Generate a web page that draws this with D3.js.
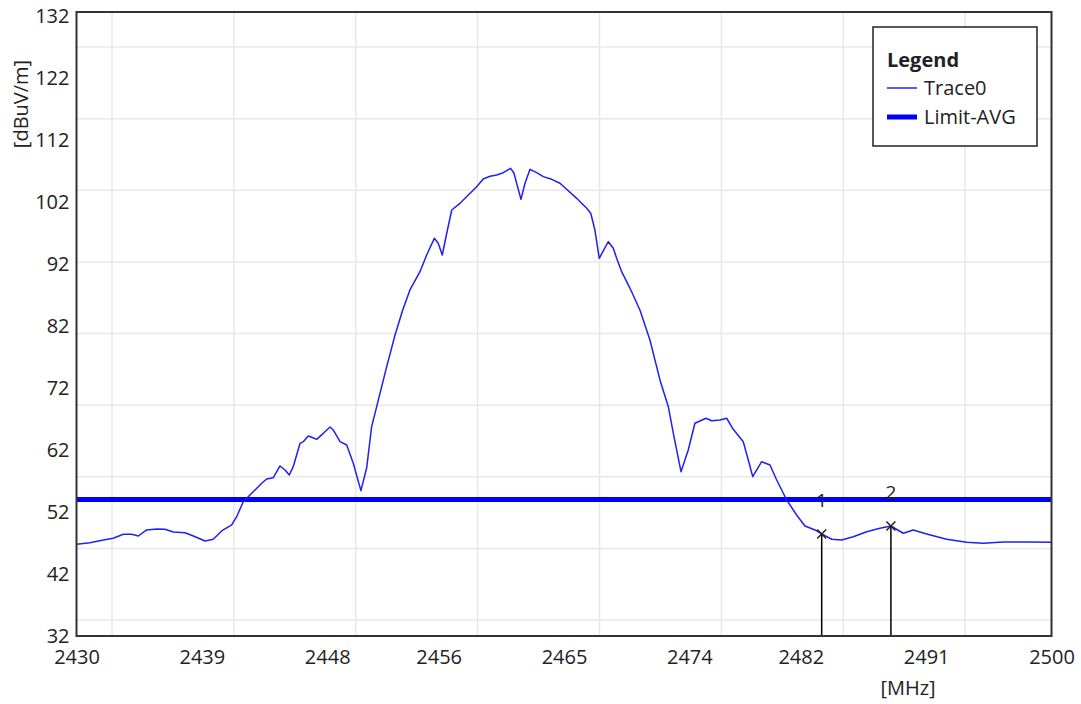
<!DOCTYPE html>
<html>
<head>
<meta charset="utf-8">
<script src="https://cdn.jsdelivr.net/npm/d3@7"></script>
<style>
  body { margin: 0; background: #fff; }
  text { font-family: "Open Sans", "Noto Sans", sans-serif; fill: #222; }
</style>
</head>
<body>
<div id="chart"></div>
<script>
// trace, MHz / dBuV/m
var freqs = [2430, 2430.97, 2431.92, 2432.64, 2433.36, 2433.96, 2434.44, 2435.04, 2435.76, 2436.35,
  2436.95, 2437.79, 2438.39, 2439.23, 2439.82, 2440.42, 2441.14, 2441.5, 2441.97, 2442.58,
  2443.3, 2443.65, 2444.13, 2444.61, 2444.97, 2445.28, 2445.56, 2446.05, 2446.28, 2446.64,
  2446.89, 2447.24, 2447.72, 2448.2, 2448.44, 2448.92, 2449.4, 2449.87, 2450.42, 2450.83,
  2451.19, 2451.79, 2452.27, 2452.87, 2453.42, 2453.94, 2454.66, 2455.14, 2455.69, 2455.97,
  2456.26, 2456.58, 2456.94, 2457.53, 2458.13, 2458.73, 2459.2, 2459.69, 2460.17, 2460.64,
  2461.17, 2461.41, 2461.91, 2462.2, 2462.56, 2463.04, 2463.51, 2464.12, 2464.71, 2465.19,
  2465.91, 2466.63, 2466.92, 2467.22, 2467.53, 2468.18, 2468.54, 2468.78, 2469.14, 2469.74,
  2470.45, 2471.17, 2471.89, 2472.49, 2472.85, 2473.4, 2473.92, 2474.4, 2475.19, 2475.6,
  2476.2, 2476.68, 2477.15, 2477.87, 2478.23, 2478.55, 2479.19, 2479.79, 2480.27, 2480.99,
  2481.7, 2482.3, 2483.02, 2483.5, 2484.22, 2484.93, 2485.77, 2486.73, 2487.68, 2488.47,
  2489.36, 2490.07, 2491.04, 2492.47, 2493.91, 2495.1, 2496.54, 2498.22, 2500];
var levels = [46.79, 47.05, 47.48, 47.76, 48.41, 48.41, 48.13, 49.1, 49.26, 49.21,
  48.78, 48.66, 48.13, 47.32, 47.6, 48.94, 49.91, 51.24, 53.66, 55.02,
  56.63, 57.32, 57.53, 59.42, 58.77, 57.97, 59.31, 63.08, 63.34, 64.26,
  64.05, 63.72, 64.69, 65.71, 65.22, 63.34, 62.81, 59.86, 55.44, 59.09,
  65.76, 71.14, 75.44, 80.55, 84.58, 87.81, 90.76, 93.45, 96.14, 95.34,
  93.45, 96.96, 100.71, 101.79, 103.13, 104.46, 105.71, 106.15, 106.36, 106.73,
  107.43, 106.63, 102.43, 105.02, 107.27, 106.73, 106.09, 105.66, 105.02, 104.05,
  102.59, 100.98, 100.18, 97.48, 92.92, 95.6, 94.53, 92.92, 90.76, 88.08,
  84.58, 79.75, 73.3, 68.99, 64.69, 58.5, 62, 66.31, 67.12, 66.72,
  66.84, 67.12, 65.34, 63.34, 60.39, 57.7, 60.11, 59.58, 57.16, 53.93,
  51.52, 49.74, 49.1, 48.46, 47.6, 47.48, 48.01, 48.82, 49.37, 49.74,
  48.57, 49.1, 48.46, 47.6, 47.12, 46.96, 47.16, 47.16, 47.12];

var limitAvg = 54;
var markerNames = ["1", "2"];
var markerFreqs = [2483.5, 2488.47];
var markerLevels = [48.46, 49.74];

var xTicks = [2430, 2439, 2448, 2456, 2465, 2474, 2482, 2491, 2500];
var yTicks = [32, 42, 52, 62, 72, 82, 92, 102, 112, 122, 132];
var xGrid = [2432.55, 2441.3, 2450.05, 2458.8, 2467.55, 2476.3, 2485.05, 2493.8];
var yGrid = [34.58, 46.13, 57.68, 69.23, 80.78, 92.33, 103.88, 115.43, 126.98];

var W = 1081, H = 704;
var plotL = 76.5, plotR = 1051.5, plotT = 16, plotB = 636;
var frameT = 12;
var fs = "20px";

var svg = d3.select("#chart").append("svg")
    .attr("width", W)
    .attr("height", H);

var x = d3.scaleLinear().domain([2430, 2500]).range([plotL, plotR]);
var y = d3.scaleLinear().domain([32, 132]).range([plotB, plotT]);

// grid
svg.append("g").selectAll("line").data(xGrid).join("line")
    .attr("x1", d => x(d)).attr("x2", d => x(d))
    .attr("y1", frameT).attr("y2", plotB)
    .attr("stroke", "#e8e8e8").attr("stroke-width", 1.5);
svg.append("g").selectAll("line").data(yGrid).join("line")
    .attr("x1", plotL).attr("x2", plotR)
    .attr("y1", d => y(d)).attr("y2", d => y(d))
    .attr("stroke", "#e8e8e8").attr("stroke-width", 1.5);

// axes, labels only
var xAxis = svg.append("g")
    .attr("transform", "translate(0," + plotB + ")")
    .call(d3.axisBottom(x).tickValues(xTicks).tickSize(0).tickPadding(14).tickFormat(d3.format("d")));
var yAxis = svg.append("g")
    .attr("transform", "translate(" + plotL + ",0)")
    .call(d3.axisLeft(y).tickValues(yTicks).tickSize(0).tickPadding(7).tickFormat(d3.format("d")));
[xAxis, yAxis].forEach(function (a) {
    a.select(".domain").remove();
    a.selectAll("text").style("font-size", fs).attr("fill", "#222")
        .style("font-family", "'Open Sans', 'Noto Sans', sans-serif");
});

svg.append("text")
    .attr("x", 908).attr("y", 695)
    .attr("text-anchor", "middle")
    .style("font-size", fs)
    .text("[MHz]");

svg.append("text")
    .attr("transform", "translate(28,104) rotate(-90)")
    .attr("text-anchor", "middle")
    .style("font-size", fs)
    .text("[dBuV/m]");

// limit line
svg.append("line")
    .attr("x1", plotL).attr("x2", plotR)
    .attr("y1", y(limitAvg)).attr("y2", y(limitAvg))
    .attr("stroke", "#0000ff").attr("stroke-width", 5);

// trace
var line = d3.line()
    .x((d, i) => x(freqs[i]))
    .y(d => y(d));

svg.append("path")
    .datum(levels)
    .attr("fill", "none")
    .attr("stroke", "#2020f0")
    .attr("stroke-width", 1.5)
    .attr("stroke-linejoin", "round")
    .attr("d", line);

// markers
var mk = svg.append("g").selectAll("g").data(markerNames).join("g");
mk.append("line")
    .attr("x1", (d, i) => x(markerFreqs[i])).attr("x2", (d, i) => x(markerFreqs[i]))
    .attr("y1", (d, i) => y(markerLevels[i])).attr("y2", plotB)
    .attr("stroke", "#000").attr("stroke-width", 1.5);
mk.append("path")
    .attr("transform", (d, i) => "translate(" + x(markerFreqs[i]) + "," + y(markerLevels[i]) + ")")
    .attr("d", "M-4.5,-4.5L4.5,4.5M-4.5,4.5L4.5,-4.5")
    .attr("stroke", "#222").attr("stroke-width", 1.5);
mk.append("text")
    .attr("x", (d, i) => x(markerFreqs[i]))
    .attr("y", (d, i) => y(markerLevels[i]) - 27)
    .attr("text-anchor", "middle")
    .style("font-size", "19px")
    .text(d => d);

// frame
svg.append("rect")
    .attr("x", plotL).attr("y", frameT)
    .attr("width", plotR - plotL).attr("height", plotB - frameT)
    .attr("fill", "none").attr("stroke", "#333").attr("stroke-width", 2);

// legend
var lg = svg.append("g");
lg.append("rect")
    .attr("x", 873).attr("y", 27).attr("width", 164).attr("height", 119)
    .attr("fill", "#fff").attr("stroke", "#222").attr("stroke-width", 1.5);
lg.append("text").attr("x", 887).attr("y", 67)
    .style("font-size", "20px").style("font-weight", "bold").text("Legend");
var legNames = ["Trace0", "Limit-AVG"];
var legWidths = [1.5, 5];
legNames.forEach(function (n, i) {
    var ly = 88 + i * 29;
    lg.append("line").attr("x1", 887).attr("x2", 917).attr("y1", ly).attr("y2", ly)
        .attr("stroke", i ? "#0000ff" : "#2020f0").attr("stroke-width", legWidths[i]);
    lg.append("text").attr("x", 924).attr("y", ly + 7)
        .style("font-size", "20px").text(n);
});
</script>
</body>
</html>
